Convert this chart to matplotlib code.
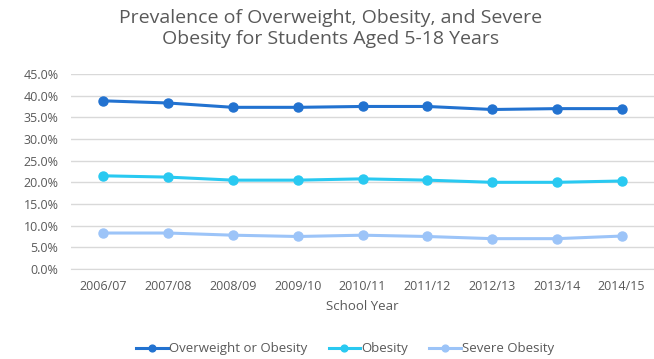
import matplotlib

matplotlib.use("Agg")
import matplotlib.pyplot as plt
from matplotlib.ticker import PercentFormatter

# Prevalence by school year (percent of students)
school_years = ["2006/07", "2007/08", "2008/09", "2009/10", "2010/11",
                "2011/12", "2012/13", "2013/14", "2014/15"]
overweight_or_obesity = [38.8, 38.3, 37.3, 37.3, 37.5, 37.5, 36.8, 37.0, 37.0]
obesity = [21.5, 21.2, 20.5, 20.5, 20.8, 20.5, 20.0, 20.0, 20.3]
severe_obesity = [8.3, 8.3, 7.8, 7.5, 7.8, 7.5, 7.0, 7.0, 7.6]

series = [
    ("Overweight or Obesity", overweight_or_obesity, "#2272D0"),
    ("Obesity", obesity, "#29C9F1"),
    ("Severe Obesity", severe_obesity, "#9CC4F8"),
]

plt.rcParams["font.family"] = ["Open Sans", "DejaVu Sans"]
text_color = "#595959"

fig = plt.figure(figsize=(6.54, 3.59), dpi=100)
ax = fig.add_axes([0.1086, 0.2507, 0.8914, 0.5433])

x = list(range(len(school_years)))
for label, values, color in series:
    ax.plot(x, values, color=color, linewidth=2.2, marker="o",
            markersize=6.5, label=label, zorder=3)

ax.set_xlim(-0.5, len(school_years) - 0.5)
ax.set_ylim(0, 45)
ax.set_yticks([i * 5 for i in range(10)])
ax.yaxis.set_major_formatter(PercentFormatter(decimals=1))
ax.set_xticks(x)
ax.set_xticklabels(school_years)

ax.grid(axis="y", color="#D9D9D9", linewidth=1.0)
ax.set_axisbelow(True)
for side in ["top", "right", "left"]:
    ax.spines[side].set_visible(False)
ax.spines["bottom"].set_color("#D9D9D9")
ax.tick_params(axis="both", length=0, labelsize=9, colors=text_color)
ax.tick_params(axis="x", pad=8)
ax.tick_params(axis="y", pad=9)

ax.set_xlabel("School Year", fontsize=9.5, color=text_color, labelpad=5)

fig.text(0.505, 0.975, "Prevalence of Overweight, Obesity, and Severe\n"
         "Obesity for Students Aged 5-18 Years",
         ha="center", va="top", fontsize=14, color=text_color,
         linespacing=1.25)

fig.legend(loc="center", bbox_to_anchor=(0.528, 0.028), ncol=3, frameon=False,
           fontsize=9.5, labelcolor=text_color, handlelength=2.4,
           handletextpad=0.1, columnspacing=1.6, markerscale=0.75)

fig.savefig("out.png", dpi=100)
plt.close(fig)
